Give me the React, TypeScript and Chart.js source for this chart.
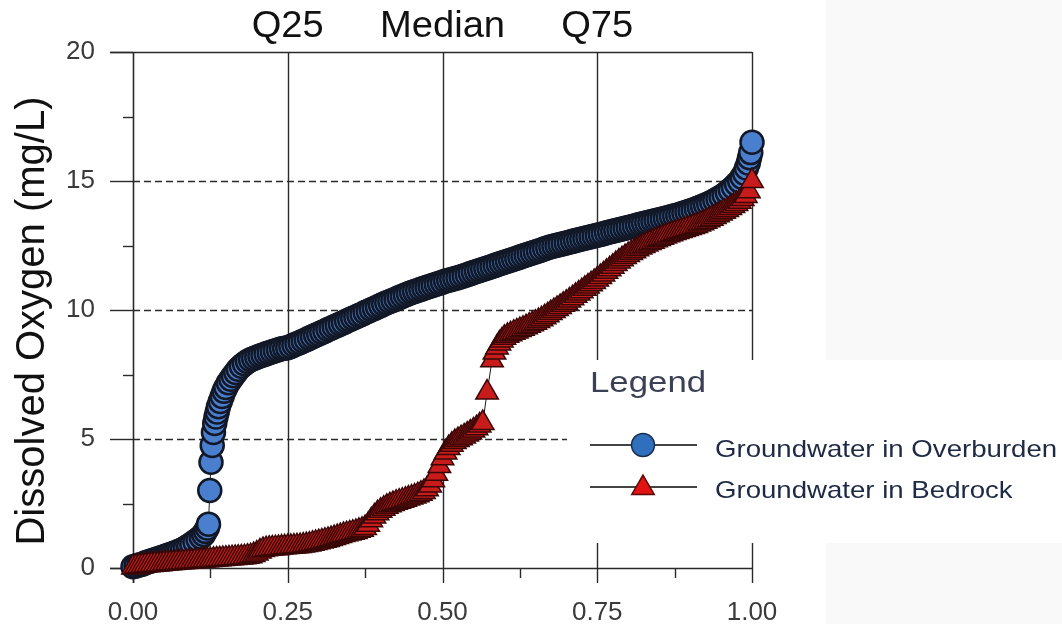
import React, { useEffect, useRef } from 'react';
import { Chart, registerables } from 'chart.js';

Chart.register(...registerables);

// ---------- data ----------
const overburdenX = [
  0.000, 0.005, 0.010, 0.015, 0.020, 0.025, 0.030, 0.035, 0.040, 0.045,
  0.050, 0.055, 0.060, 0.065, 0.070, 0.075, 0.080, 0.085, 0.090, 0.095,
  0.100, 0.105, 0.110, 0.114, 0.117, 0.120, 0.122, 0.124, 0.126, 0.128,
  0.130, 0.132, 0.134, 0.136, 0.138, 0.141, 0.144, 0.147, 0.150, 0.154,
  0.158, 0.162, 0.166, 0.170, 0.175, 0.180, 0.185, 0.190, 0.195, 0.200,
  0.205, 0.210, 0.215, 0.220, 0.225, 0.230, 0.235, 0.240, 0.245, 0.250,
  0.255, 0.260, 0.265, 0.270, 0.275, 0.280, 0.285, 0.290, 0.295, 0.300,
  0.305, 0.310, 0.315, 0.320, 0.325, 0.330, 0.335, 0.340, 0.345, 0.350,
  0.355, 0.360, 0.365, 0.370, 0.375, 0.380, 0.385, 0.390, 0.395, 0.400,
  0.405, 0.410, 0.415, 0.420, 0.425, 0.430, 0.435, 0.440, 0.445, 0.450,
  0.455, 0.460, 0.465, 0.470, 0.475, 0.480, 0.485, 0.490, 0.495, 0.500,
  0.505, 0.510, 0.515, 0.520, 0.525, 0.530, 0.535, 0.540, 0.545, 0.550,
  0.555, 0.560, 0.565, 0.570, 0.575, 0.580, 0.585, 0.590, 0.595, 0.600,
  0.605, 0.610, 0.615, 0.620, 0.625, 0.630, 0.635, 0.640, 0.645, 0.650,
  0.655, 0.660, 0.665, 0.670, 0.675, 0.680, 0.685, 0.690, 0.695, 0.700,
  0.705, 0.710, 0.715, 0.720, 0.725, 0.730, 0.735, 0.740, 0.745, 0.750,
  0.755, 0.760, 0.765, 0.770, 0.775, 0.780, 0.785, 0.790, 0.795, 0.800,
  0.805, 0.810, 0.815, 0.820, 0.825, 0.830, 0.835, 0.840, 0.845, 0.850,
  0.855, 0.860, 0.865, 0.870, 0.875, 0.880, 0.885, 0.890, 0.895, 0.900,
  0.905, 0.910, 0.915, 0.920, 0.925, 0.930, 0.935, 0.940, 0.945, 0.950,
  0.955, 0.960, 0.965, 0.970, 0.975, 0.980, 0.984, 0.988, 0.991, 0.994,
  0.996, 0.998, 1.000,
];
const overburdenY = [
  0.05, 0.08, 0.12, 0.15, 0.20, 0.24, 0.28, 0.32, 0.36, 0.40,
  0.44, 0.48, 0.52, 0.56, 0.61, 0.66, 0.71, 0.78, 0.85, 0.93,
  1.02, 1.10, 1.20, 1.30, 1.42, 1.55, 1.70, 3.00, 4.10, 4.75,
  5.25, 5.60, 5.85, 6.05, 6.25, 6.45, 6.65, 6.85, 7.00, 7.18,
  7.32, 7.45, 7.58, 7.70, 7.82, 7.92, 8.00, 8.07, 8.12, 8.17,
  8.22, 8.26, 8.30, 8.34, 8.38, 8.42, 8.46, 8.50, 8.52, 8.54,
  8.59, 8.64, 8.69, 8.74, 8.80, 8.85, 8.91, 8.96, 9.02, 9.07,
  9.13, 9.18, 9.24, 9.29, 9.35, 9.40, 9.46, 9.51, 9.57, 9.62,
  9.68, 9.73, 9.79, 9.84, 9.90, 9.95, 10.01, 10.06, 10.12, 10.17,
  10.23, 10.28, 10.33, 10.38, 10.43, 10.48, 10.53, 10.58, 10.63, 10.68,
  10.72, 10.76, 10.80, 10.84, 10.88, 10.92, 10.96, 11.00, 11.04, 11.08,
  11.12, 11.15, 11.18, 11.22, 11.25, 11.29, 11.33, 11.37, 11.41, 11.45,
  11.49, 11.53, 11.57, 11.61, 11.65, 11.69, 11.73, 11.77, 11.81, 11.85,
  11.89, 11.93, 11.97, 12.01, 12.05, 12.09, 12.13, 12.17, 12.21, 12.25,
  12.29, 12.33, 12.37, 12.41, 12.45, 12.48, 12.51, 12.54, 12.57, 12.60,
  12.63, 12.66, 12.69, 12.72, 12.75, 12.78, 12.81, 12.84, 12.87, 12.90,
  12.93, 12.96, 12.99, 13.02, 13.05, 13.08, 13.11, 13.14, 13.17, 13.20,
  13.23, 13.26, 13.29, 13.32, 13.35, 13.38, 13.41, 13.44, 13.47, 13.50,
  13.53, 13.56, 13.59, 13.62, 13.65, 13.68, 13.72, 13.76, 13.80, 13.84,
  13.88, 13.92, 13.97, 14.02, 14.07, 14.12, 14.18, 14.24, 14.31, 14.38,
  14.46, 14.55, 14.65, 14.76, 14.88, 15.00, 15.15, 15.30, 15.50, 15.70,
  15.90, 16.10, 16.50,
];
const bedrockX = [
  0.000, 0.005, 0.010, 0.015, 0.020, 0.025, 0.030, 0.035, 0.040, 0.045,
  0.050, 0.055, 0.060, 0.065, 0.070, 0.075, 0.080, 0.085, 0.090, 0.095,
  0.100, 0.105, 0.110, 0.115, 0.120, 0.125, 0.130, 0.135, 0.140, 0.145,
  0.150, 0.155, 0.160, 0.165, 0.170, 0.175, 0.180, 0.185, 0.190, 0.195,
  0.200, 0.205, 0.210, 0.215, 0.220, 0.225, 0.230, 0.235, 0.240, 0.245,
  0.250, 0.255, 0.260, 0.265, 0.270, 0.275, 0.280, 0.285, 0.290, 0.295,
  0.300, 0.305, 0.310, 0.315, 0.320, 0.325, 0.330, 0.335, 0.340, 0.345,
  0.350, 0.355, 0.360, 0.365, 0.370, 0.375, 0.380, 0.385, 0.390, 0.395,
  0.400, 0.405, 0.410, 0.415, 0.420, 0.425, 0.430, 0.435, 0.440, 0.445,
  0.450, 0.455, 0.460, 0.465, 0.470, 0.475, 0.480, 0.485, 0.490, 0.495,
  0.500, 0.505, 0.510, 0.515, 0.520, 0.525, 0.530, 0.535, 0.540, 0.545,
  0.550, 0.555, 0.560, 0.565, 0.572, 0.580, 0.584, 0.588, 0.592, 0.596,
  0.600, 0.605, 0.610, 0.615, 0.620, 0.625, 0.630, 0.635, 0.640, 0.645,
  0.650, 0.655, 0.660, 0.665, 0.670, 0.675, 0.680, 0.685, 0.690, 0.695,
  0.700, 0.705, 0.710, 0.715, 0.720, 0.725, 0.730, 0.735, 0.740, 0.745,
  0.750, 0.755, 0.760, 0.765, 0.770, 0.775, 0.780, 0.785, 0.790, 0.795,
  0.800, 0.805, 0.810, 0.815, 0.820, 0.825, 0.830, 0.835, 0.840, 0.845,
  0.850, 0.855, 0.860, 0.865, 0.870, 0.875, 0.880, 0.885, 0.890, 0.895,
  0.900, 0.905, 0.910, 0.915, 0.920, 0.925, 0.930, 0.935, 0.940, 0.945,
  0.950, 0.955, 0.960, 0.965, 0.970, 0.975, 0.980, 0.985, 0.990, 0.995,
  1.000,
];
const bedrockY = [
  0.02, 0.05, 0.07, 0.08, 0.10, 0.11, 0.12, 0.13, 0.14, 0.15,
  0.16, 0.17, 0.18, 0.19, 0.20, 0.21, 0.22, 0.23, 0.24, 0.25,
  0.26, 0.27, 0.28, 0.29, 0.30, 0.31, 0.32, 0.33, 0.34, 0.35,
  0.36, 0.37, 0.38, 0.39, 0.40, 0.41, 0.42, 0.44, 0.46, 0.50,
  0.56, 0.64, 0.70, 0.73, 0.75, 0.76, 0.77, 0.78, 0.79, 0.80,
  0.81, 0.82, 0.83, 0.84, 0.85, 0.87, 0.89, 0.91, 0.94, 0.97,
  1.00, 1.03, 1.06, 1.09, 1.12, 1.16, 1.20, 1.24, 1.28, 1.31,
  1.34, 1.37, 1.40, 1.44, 1.48, 1.55, 1.68, 1.85, 2.00, 2.12,
  2.22, 2.30, 2.37, 2.43, 2.48, 2.53, 2.57, 2.61, 2.65, 2.69,
  2.73, 2.77, 2.82, 2.88, 2.95, 3.05, 3.20, 3.40, 3.65, 3.95,
  4.25, 4.48, 4.65, 4.78, 4.88, 4.96, 5.03, 5.10, 5.17, 5.25,
  5.33, 5.42, 5.52, 5.62, 6.80, 8.05, 8.35, 8.55, 8.70, 8.82,
  8.92, 9.00, 9.06, 9.12, 9.17, 9.22, 9.27, 9.33, 9.39, 9.45,
  9.51, 9.57, 9.64, 9.72, 9.80, 9.88, 9.96, 10.04, 10.12, 10.20,
  10.28, 10.37, 10.46, 10.55, 10.64, 10.73, 10.82, 10.91, 11.00, 11.09,
  11.18, 11.28, 11.38, 11.48, 11.58, 11.68, 11.78, 11.88, 11.97, 12.05,
  12.13, 12.21, 12.28, 12.35, 12.42, 12.48, 12.54, 12.60, 12.65, 12.70,
  12.75, 12.80, 12.85, 12.90, 12.94, 12.98, 13.02, 13.06, 13.10, 13.14,
  13.18, 13.22, 13.26, 13.31, 13.36, 13.42, 13.48, 13.54, 13.60, 13.67,
  13.74, 13.81, 13.88, 13.95, 14.03, 14.11, 14.20, 14.30, 14.42, 14.60,
  15.00,
];

const seriesNames = ['Groundwater in Overburden', 'Groundwater in Bedrock'];
const legendTitle = 'Legend';
const yAxisTitle = 'Dissolved Oxygen (mg/L)';
const quantileLabels = ['Q25', 'Median', 'Q75'];
const quantileValues = [0.25, 0.5, 0.75];
const xTickValues = [0, 0.25, 0.5, 0.75, 1];
const xMinorTickValues = [0.125, 0.375, 0.625, 0.875];
const yTickValues = [0, 5, 10, 15, 20];
const yMinorTickValues = [2.5, 7.5, 12.5, 17.5];
const yDashedGridValues = [5, 10, 15];
const xSolidGridValues = [0.25, 0.5, 0.75, 1];

const FONT = '"Liberation Sans", Arial, Helvetica, sans-serif';
const BLUE_FILL = '#4a7fcf';
const BLUE_EDGE = '#121826';
const RED_FILL = '#c81c1c';
const RED_EDGE = '#3a0707';

function line(ctx: CanvasRenderingContext2D, x1: number, y1: number, x2: number, y2: number) {
  ctx.beginPath();
  ctx.moveTo(x1, y1);
  ctx.lineTo(x2, y2);
  ctx.stroke();
}

function stretchedText(
  ctx: CanvasRenderingContext2D, text: string, x: number, y: number,
  sx: number, align: CanvasTextAlign, baseline: CanvasTextBaseline,
) {
  ctx.save();
  ctx.translate(x, y);
  ctx.scale(sx, 1);
  ctx.textAlign = align;
  ctx.textBaseline = baseline;
  ctx.fillText(text, 0, 0);
  ctx.restore();
}

const backgroundPlugin = {
  id: 'bg',
  beforeDraw(chart: any) {
    const { ctx, width, height } = chart;
    ctx.save();
    ctx.fillStyle = '#ffffff';
    ctx.fillRect(0, 0, width, height);
    ctx.fillStyle = '#f9f9f9';
    ctx.fillRect(826, 0, width - 826, 360);
    ctx.fillRect(826, 543, width - 826, height - 543);
    ctx.restore();
  },
};

const framePlugin = {
  id: 'frame',
  beforeDatasetsDraw(chart: any) {
    const { ctx, chartArea: ca, scales } = chart;
    const xs = scales.x;
    const ys = scales.y;
    ctx.save();
    ctx.strokeStyle = '#2a2a2a';
    // dashed horizontal grid
    ctx.lineWidth = 1.3;
    ctx.setLineDash([7, 4]);
    for (const v of yDashedGridValues) {
      const py = Math.round(ys.getPixelForValue(v)) + 0.5;
      line(ctx, ca.left, py, ca.right, py);
    }
    ctx.setLineDash([]);
    // solid vertical grid
    ctx.lineWidth = 1.4;
    for (const v of xSolidGridValues) {
      const px = Math.round(xs.getPixelForValue(v)) + 0.5;
      line(ctx, px, ca.top, px, ca.bottom);
    }
    // top line, axes
    const top = Math.round(ys.getPixelForValue(20)) + 0.5;
    const bottom = Math.round(ys.getPixelForValue(0)) + 0.5;
    const left = Math.round(xs.getPixelForValue(0)) + 0.5;
    line(ctx, ca.left - 23, top, ca.right, top);
    ctx.lineWidth = 1.6;
    line(ctx, ca.left - 23, bottom, ca.right, bottom);
    line(ctx, left, ca.top, left, ca.bottom + 15);
    // y ticks
    ctx.lineWidth = 1.4;
    for (const v of yTickValues) {
      const py = Math.round(ys.getPixelForValue(v)) + 0.5;
      line(ctx, ca.left - 23, py, ca.left, py);
    }
    for (const v of yMinorTickValues) {
      const py = Math.round(ys.getPixelForValue(v)) + 0.5;
      line(ctx, ca.left - 10, py, ca.left, py);
    }
    // x ticks
    for (const v of xTickValues) {
      const px = Math.round(xs.getPixelForValue(v)) + 0.5;
      line(ctx, px, ca.bottom, px, ca.bottom + 15);
    }
    for (const v of xMinorTickValues) {
      const px = Math.round(xs.getPixelForValue(v)) + 0.5;
      line(ctx, px, ca.bottom, px, ca.bottom + 10);
    }
    // legend panel (white, covers grid lines)
    ctx.fillStyle = '#ffffff';
    ctx.fillRect(567, 360, chart.width - 567, 183);
    ctx.restore();
  },
};

const overlayPlugin = {
  id: 'overlay',
  afterDraw(chart: any) {
    const { ctx, chartArea: ca, scales } = chart;
    const xs = scales.x;
    ctx.save();
    // quantile labels on top
    ctx.fillStyle = '#111111';
    ctx.font = `36px ${FONT}`;
    quantileLabels.forEach((t, i) => {
      stretchedText(ctx, t, xs.getPixelForValue(quantileValues[i]), 37, 1.06, 'center', 'alphabetic');
    });
    // y-axis title
    ctx.save();
    ctx.translate(44, (ca.top + ca.bottom) / 2 + 11);
    ctx.rotate(-Math.PI / 2);
    ctx.font = `40px ${FONT}`;
    ctx.textAlign = 'center';
    ctx.textBaseline = 'alphabetic';
    ctx.fillStyle = '#111111';
    ctx.fillText(yAxisTitle, 0, 0);
    ctx.restore();

    // legend
    ctx.fillStyle = '#3b4054';
    ctx.font = `30px ${FONT}`;
    stretchedText(ctx, legendTitle, 590, 392, 1.16, 'left', 'alphabetic');

    const rows = [445, 487];
    ctx.strokeStyle = '#444444';
    ctx.lineWidth = 2;
    rows.forEach((ry) => line(ctx, 590, ry, 697, ry));
    // circle marker
    ctx.beginPath();
    ctx.arc(643, rows[0], 11.5, 0, Math.PI * 2);
    ctx.fillStyle = '#2f6fbe';
    ctx.fill();
    ctx.lineWidth = 1.5;
    ctx.strokeStyle = '#1a2d4d';
    ctx.stroke();
    // triangle marker
    const r = 13;
    const cy = rows[1] + 1;
    ctx.beginPath();
    ctx.moveTo(643, cy - r);
    ctx.lineTo(643 + r * Math.sin((2 * Math.PI) / 3), cy + r / 2);
    ctx.lineTo(643 - r * Math.sin((2 * Math.PI) / 3), cy + r / 2);
    ctx.closePath();
    ctx.fillStyle = '#e31212';
    ctx.fill();
    ctx.strokeStyle = '#5a0a0a';
    ctx.stroke();

    ctx.fillStyle = '#1e2a44';
    ctx.font = `24px ${FONT}`;
    stretchedText(ctx, seriesNames[0], 715, 457, 1.15, 'left', 'alphabetic');
    stretchedText(ctx, seriesNames[1], 715, 498, 1.15, 'left', 'alphabetic');
    ctx.restore();
  },
};

export default function App() {
  const canvasRef = useRef<HTMLCanvasElement | null>(null);

  useEffect(() => {
    const canvas = canvasRef.current;
    if (!canvas) return;
    const chart = new Chart(canvas, {
      type: 'scatter',
      data: {
        datasets: [
          {
            label: seriesNames[1],
            data: bedrockX.map((x, i) => ({ x, y: bedrockY[i] })),
            showLine: true,
            borderColor: '#2a1212',
            borderWidth: 1,
            pointStyle: 'triangle',
            pointRadius: 13,
            pointBackgroundColor: RED_FILL,
            pointBorderColor: RED_EDGE,
            pointBorderWidth: 1.5,
            clip: false,
          } as any,
          {
            label: seriesNames[0],
            data: overburdenX.map((x, i) => ({ x, y: overburdenY[i] })),
            showLine: true,
            borderColor: '#222222',
            borderWidth: 1,
            pointStyle: 'circle',
            pointRadius: 11.5,
            pointBackgroundColor: BLUE_FILL,
            pointBorderColor: BLUE_EDGE,
            pointBorderWidth: 2.5,
            clip: false,
          } as any,
        ],
      },
      options: {
        animation: false,
        responsive: false,
        maintainAspectRatio: false,
        events: [],
        layout: { padding: { left: 0, top: 52, right: 310, bottom: 0 } },
        plugins: {
          legend: { display: false },
          tooltip: { enabled: false },
          title: { display: false },
        },
        scales: {
          x: {
            type: 'linear',
            min: 0,
            max: 1,
            afterBuildTicks: (s: any) => {
              s.ticks = xTickValues.map((value) => ({ value }));
            },
            afterFit: (s: any) => {
              s.height = 56;
            },
            grid: { display: false },
            border: { display: false },
            ticks: {
              padding: 21,
              color: '#3a3a3a',
              font: { family: FONT, size: 26 },
              maxRotation: 0,
              autoSkip: false,
              callback: (v: any) => Number(v).toFixed(2),
            },
          },
          y: {
            type: 'linear',
            min: 0,
            max: 20,
            afterBuildTicks: (s: any) => {
              s.ticks = yTickValues.map((value) => ({ value }));
            },
            afterFit: (s: any) => {
              s.width = 133;
            },
            grid: { display: false },
            border: { display: false },
            ticks: {
              padding: 30,
              color: '#3a3a3a',
              font: { family: FONT, size: 26 },
              autoSkip: false,
              callback: (v: any) => String(v),
            },
          },
        },
      } as any,
      plugins: [backgroundPlugin, framePlugin, overlayPlugin],
    });
    return () => chart.destroy();
  }, []);

  return (
    <div style={{ position: 'absolute', left: 0, top: 0, width: 1062, height: 624, background: '#fff' }}>
      <canvas ref={canvasRef} width={1062} height={624} style={{ display: 'block', width: 1062, height: 624 }} />
    </div>
  );
}
